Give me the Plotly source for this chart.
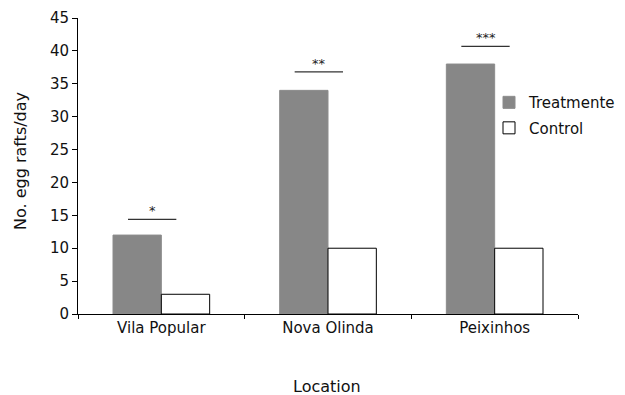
import plotly.graph_objects as go

locations = ["Vila Popular", "Nova Olinda", "Peixinhos"]
treatment = [12, 34, 38]
control = [3, 10, 10]
sig_labels = ["*", "**", "***"]
sig_heights = [14.4, 36.8, 40.7]

FONT = "DejaVu Sans, Liberation Sans, Arial, sans-serif"
PW, PH = 500, 296  # plot area size in px

fig = go.Figure()
fig.add_trace(go.Bar(x=locations, y=treatment, name="Treatmente", legendgroup="t",
                     marker=dict(color="#878787", line=dict(color="#8c8c8c", width=1))))
fig.add_trace(go.Bar(x=locations, y=control, name="Control", legendgroup="c",
                     marker=dict(color="white", line=dict(color="black", width=1))))

for i, (lab, h) in enumerate(zip(sig_labels, sig_heights)):
    fig.add_shape(type="line", xref="x", yref="y", x0=i - 0.2, x1=i + 0.09, y0=h, y1=h,
                  line=dict(color="#333333", width=1.2))
    fig.add_annotation(x=i - 0.055, y=h, xref="x", yref="y", text=lab, showarrow=False,
                       yanchor="bottom", yshift=-1, font=dict(size=13, color="#222"))

# axis titles (positioned in plot-area paper units)
fig.add_annotation(x=(20 - 78) / PW, y=(314 - 161) / PH, xref="paper", yref="paper",
                   text="No. egg rafts/day", showarrow=False, textangle=-90,
                   font=dict(size=16), xanchor="center", yanchor="middle")
fig.add_annotation(x=(327 - 78) / PW, y=(314 - 386) / PH, xref="paper", yref="paper",
                   text="Location", showarrow=False,
                   font=dict(size=16), xanchor="center", yanchor="middle")

fig.update_layout(
    width=617, height=387,
    margin=dict(l=70, r=47, t=10, b=81, autoexpand=False),
    plot_bgcolor="white", paper_bgcolor="white",
    barmode="group", bargap=0.42, bargroupgap=0,
    font=dict(family=FONT, size=15, color="#111"),
    showlegend=True,
    legend=dict(x=0.822, y=0.77, xanchor="left", yanchor="top", bgcolor="rgba(0,0,0,0)",
                font=dict(size=15), itemwidth=30, tracegroupgap=3, traceorder="grouped"),
    xaxis=dict(showline=True, linecolor="black", linewidth=1, ticks="outside",
               tickson="boundaries", ticklen=4, tickcolor="black",
               range=[-0.5, 2.5], showgrid=False, automargin=False),
    yaxis=dict(showline=True, linecolor="black", linewidth=1, ticks="outside",
               ticklen=5, tickcolor="black", range=[0, 45], dtick=5, showgrid=False,
               zeroline=False, automargin=False),
)

fig.write_html("out.html")
